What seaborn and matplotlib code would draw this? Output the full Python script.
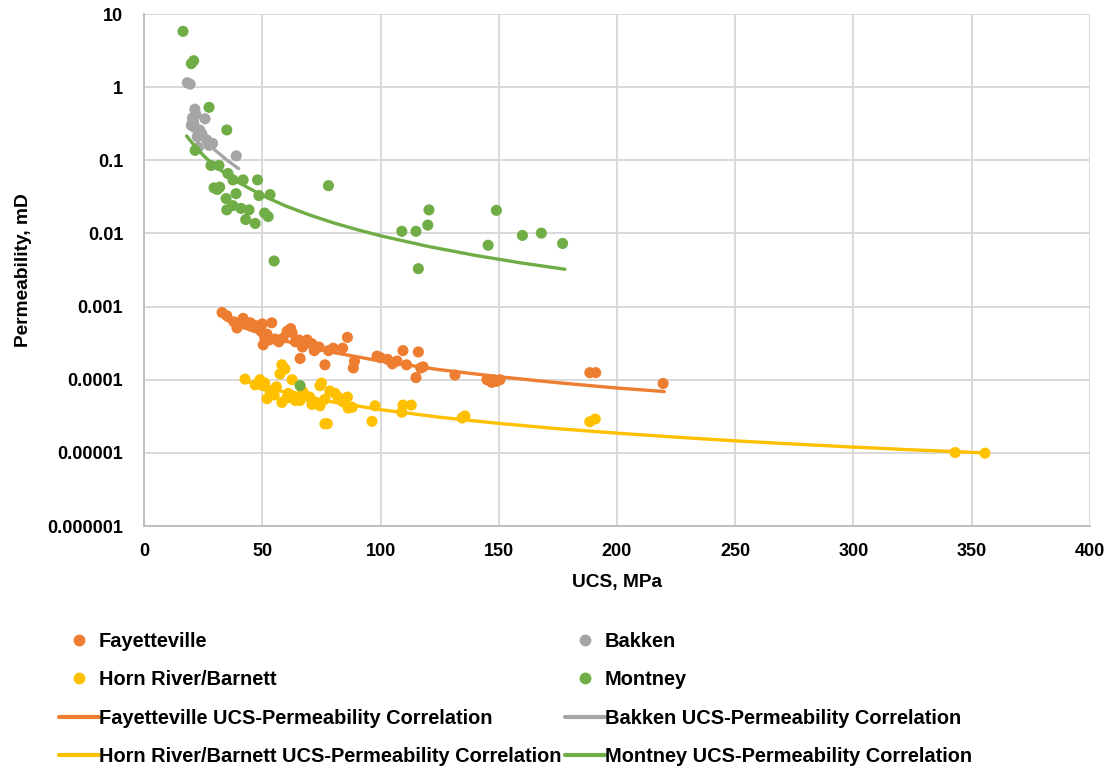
import numpy as np
import pandas as pd
import seaborn as sns
import matplotlib
matplotlib.use("Agg")
import matplotlib.pyplot as plt
from matplotlib.lines import Line2D

# ---- measured data: UCS (MPa) vs permeability (mD) ----
fay_ucs = [33, 35, 38, 39.3, 41.9, 43, 45, 47, 49.5, 50, 50.4, 51, 52, 54, 55.4, 53, 57,
           58.8, 60.5, 62, 62.6, 64, 65.5, 66, 67, 69, 71, 72, 74, 76.5, 78, 80, 84, 86,
           88.5, 89, 98.5, 100, 103, 105, 107, 109.5, 111, 115, 116, 117, 118, 131.5,
           145, 147, 147.5, 150.5, 149, 188.5, 191, 219.5]
fay_perm = [0.00083, 0.00075, 0.00062, 0.00051, 0.00069, 0.00057, 0.0006, 0.00055, 0.00046,
            0.00058, 0.0003, 0.00038, 0.00042, 0.0006, 0.00036, 0.00035, 0.00033, 0.00037,
            0.00046, 0.0005, 0.00044, 0.00033, 0.00035, 0.000195, 0.00028, 0.00035, 0.00031,
            0.00025, 0.00028, 0.00016, 0.00025, 0.00027, 0.00027, 0.00038, 0.000145, 0.00018,
            0.00021, 0.0002, 0.00019, 0.000165, 0.00018, 0.00025, 0.00016, 0.000107, 0.00024,
            0.000145, 0.00015, 0.000116, 0.0001, 0.000092, 0.0001, 0.0001, 0.000095,
            0.000125, 0.000125, 0.000089]

bak_ucs = [18.3, 19.5, 21.5, 20.5, 21.0, 22.0, 25.8, 21.5, 23.5, 22.5, 24.5, 26.5, 27.5,
           23.0, 39.0, 20.0, 29.0]
bak_perm = [1.15, 1.1, 0.5, 0.38, 0.33, 0.42, 0.37, 0.28, 0.26, 0.21, 0.23, 0.19, 0.16,
            0.15, 0.115, 0.3, 0.17]

hrb_ucs = [42.7, 47, 49, 50.3, 51, 52, 53.3, 54.6, 55, 56, 57.5, 58.3, 59.6, 58.3, 60.4, 61,
           62.6, 63, 64, 66, 67, 68, 70, 71, 72, 74.4, 74.4, 75, 76.5, 76.5, 77.5, 78.6,
           80.8, 82, 84, 86, 86.3, 88, 96.4, 97.7, 109, 109.5, 113, 134.5, 135.7, 188.5,
           190.8, 343, 355.6]
hrb_perm = [0.000102, 0.000085, 0.0001, 0.000083, 0.00009, 0.000055, 0.00007, 0.000072,
            0.000062, 0.00008, 0.00012, 0.00016, 0.00014, 0.000049, 0.000056, 0.000065,
            0.0001, 0.00006, 0.000052, 0.000052, 0.00007, 0.000062, 0.000058, 0.000046,
            0.00005, 0.000083, 0.000044, 0.00009, 0.000054, 0.000025, 0.000025, 0.00007,
            0.000065, 0.000058, 0.00005, 0.000058, 0.000041, 0.000042, 0.000027, 0.000044,
            0.000036, 0.000045, 0.000045, 0.00003, 0.000032, 0.0000266, 0.000029,
            0.0000101, 0.0000099]

mon_ucs = [16.5, 20, 21, 27.5, 35, 21.6, 28.3, 31.7, 35.5, 37.6, 48, 41.9, 29.6, 31, 32,
           34.7, 38.9, 48.6, 53.3, 35, 37.6, 41, 44.4, 43, 47, 51, 52.5, 55, 78, 149, 120.5,
           120, 109, 115, 160, 168, 177, 145.5, 116, 66]
mon_perm = [5.8, 2.1, 2.3, 0.53, 0.26, 0.137, 0.085, 0.085, 0.066, 0.054, 0.054, 0.054,
            0.042, 0.04, 0.043, 0.030, 0.035, 0.033, 0.034, 0.021, 0.024, 0.022, 0.021,
            0.0155, 0.0137, 0.019, 0.017, 0.0042, 0.045, 0.0207, 0.021, 0.013, 0.0107,
            0.0107, 0.0094, 0.0101, 0.0073, 0.0069, 0.0033, 0.000083]

# ---- correlation curves ----
fay_fit_ucs = [35, 45, 60, 80, 100, 125, 150, 175, 200, 220]
fay_fit_perm = [6.5e-4, 4.77e-4, 3.36e-4, 2.36e-4, 1.8e-4, 1.37e-4, 1.10e-4, 9.1e-5, 7.7e-5, 6.9e-5]

bak_fit_ucs = [19, 22, 26, 30, 35, 40]
bak_fit_perm = [0.35, 0.26, 0.185, 0.138, 0.101, 0.077]

hrb_fit_ucs = [43, 60, 80, 100, 125, 150, 175, 200, 225, 250, 275, 300, 325, 355]
hrb_fit_perm = [9.5e-5, 6.7e-5, 4.95e-5, 3.9e-5, 3.07e-5, 2.53e-5, 2.14e-5, 1.86e-5,
                1.64e-5, 1.46e-5, 1.32e-5, 1.2e-5, 1.1e-5, 1.0e-5]

mon_fit_ucs = [18, 22, 26, 30, 35, 40, 50, 60, 70, 80, 90, 100, 120, 140, 160, 178]
mon_fit_perm = [0.215, 0.149, 0.109, 0.084, 0.0635, 0.0497, 0.0331, 0.0237, 0.0179, 0.0140,
                0.0113, 0.0093, 0.00666, 0.00502, 0.00393, 0.00324]

formations = ["Fayetteville", "Bakken", "Horn River/Barnett", "Montney"]
colors = ["#ED7D31", "#A5A5A5", "#FFC000", "#70AD47"]

x_ticks = [0, 50, 100, 150, 200, 250, 300, 350, 400]
y_ticks = [10, 1, 0.1, 0.01, 0.001, 0.0001, 0.00001, 0.000001]
y_tick_labels = ["10", "1", "0.1", "0.01", "0.001", "0.0001", "0.00001", "0.000001"]

points = pd.concat([
    pd.DataFrame({"UCS": fay_ucs, "Perm": fay_perm, "Formation": formations[0]}),
    pd.DataFrame({"UCS": bak_ucs, "Perm": bak_perm, "Formation": formations[1]}),
    pd.DataFrame({"UCS": hrb_ucs, "Perm": hrb_perm, "Formation": formations[2]}),
    pd.DataFrame({"UCS": mon_ucs, "Perm": mon_perm, "Formation": formations[3]}),
], ignore_index=True)

fits = pd.concat([
    pd.DataFrame({"UCS": fay_fit_ucs, "Perm": fay_fit_perm, "Formation": formations[0]}),
    pd.DataFrame({"UCS": bak_fit_ucs, "Perm": bak_fit_perm, "Formation": formations[1]}),
    pd.DataFrame({"UCS": hrb_fit_ucs, "Perm": hrb_fit_perm, "Formation": formations[2]}),
    pd.DataFrame({"UCS": mon_fit_ucs, "Perm": mon_fit_perm, "Formation": formations[3]}),
], ignore_index=True)

sns.set_theme(style="white")
plt.rcParams["font.family"] = ["Liberation Sans", "DejaVu Sans"]
plt.rcParams["font.weight"] = "bold"
plt.rcParams["text.color"] = "black"
plt.rcParams["axes.labelcolor"] = "black"

palette = dict(zip(formations, colors))

fig = plt.figure(figsize=(11.13, 7.67), dpi=100)
ax = fig.add_axes([0.1294, 0.3142, 0.8499, 0.6675])

sns.scatterplot(data=points, x="UCS", y="Perm", hue="Formation", hue_order=formations,
                palette=palette, s=64, edgecolor="none", linewidth=0, ax=ax,
                legend=False, zorder=3)
sns.lineplot(data=fits, x="UCS", y="Perm", hue="Formation", hue_order=formations,
             palette=palette, linewidth=2.4, sort=False, estimator=None, ax=ax,
             legend=False, zorder=4)

ax.set_yscale("log")
ax.set_xlim(0, 400)
ax.set_ylim(1e-6, 10)
ax.set_xticks(x_ticks)
ax.set_xticklabels([str(t) for t in x_ticks])
ax.set_yticks(y_ticks)
ax.set_yticklabels(y_tick_labels)
ax.yaxis.set_minor_locator(matplotlib.ticker.NullLocator())
ax.tick_params(axis="both", length=0, labelsize=13, colors="black")
ax.tick_params(axis="y", pad=15)
ax.tick_params(axis="x", pad=12)
for lab in ax.get_xticklabels() + ax.get_yticklabels():
    lab.set_fontweight("bold")

ax.grid(True, which="major", color="#D9D9D9", linewidth=1.4)
ax.set_axisbelow(True)
for side in ["top", "right"]:
    ax.spines[side].set_visible(False)
for side in ["left", "bottom"]:
    ax.spines[side].set_color("#BFBFBF")
    ax.spines[side].set_linewidth(1.4)

ax.set_xlabel("UCS, MPa", fontsize=13.8, fontweight="bold", labelpad=10)
ax.set_ylabel("Permeability, mD", fontsize=13.8, fontweight="bold", labelpad=11)

# two-column legend below the axes
def marker_handle(c):
    return Line2D([], [], linestyle="none", marker="o", markersize=7.5, color=c)

def line_handle(c):
    return Line2D([], [], color=c, linewidth=3)

left_handles = [marker_handle(colors[0]), marker_handle(colors[2]),
                line_handle(colors[0]), line_handle(colors[2])]
left_labels = ["Fayetteville", "Horn River/Barnett",
               "Fayetteville UCS-Permeability Correlation",
               "Horn River/Barnett UCS-Permeability Correlation"]
right_handles = [marker_handle(colors[1]), marker_handle(colors[3]),
                 line_handle(colors[1]), line_handle(colors[3])]
right_labels = ["Bakken", "Montney",
                "Bakken UCS-Permeability Correlation",
                "Montney UCS-Permeability Correlation"]

legend_kw = dict(loc="upper left", frameon=False, fontsize=14.4, handlelength=2.0,
                 handletextpad=0.0, labelspacing=0.97, borderaxespad=0, borderpad=0)
leg1 = fig.legend(left_handles, left_labels, bbox_to_anchor=(0.053, 0.176), **legend_kw)
leg2 = fig.legend(right_handles, right_labels, bbox_to_anchor=(0.5076, 0.176), **legend_kw)
for leg in (leg1, leg2):
    for t in leg.get_texts():
        t.set_fontweight("bold")
        t.set_color("black")

fig.savefig("out.png", dpi=100)
